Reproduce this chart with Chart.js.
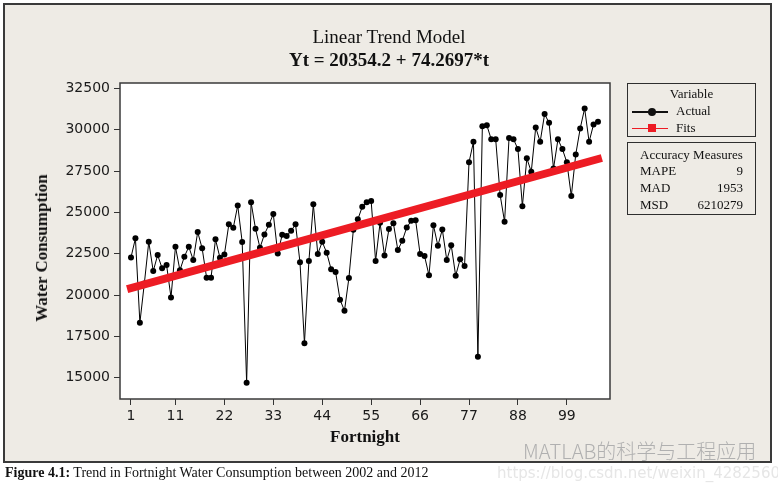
<!DOCTYPE html>
<html>
<head>
<meta charset="utf-8">
<script src="https://cdn.jsdelivr.net/npm/chart.js@4"></script>
<style>
  body { margin:0; width:778px; height:484px; position:relative; overflow:hidden; background:#fff; font-family:"Liberation Serif", serif; color:#111; }
  #frame { position:absolute; left:3px; top:3px; width:765px; height:456px; border:2px solid #3a3a3a; background:#eeebe5; }
  #chart { position:absolute; left:0; top:0; }
  .ttl { position:absolute; left:0; width:778px; text-align:center; font-size:19px; line-height:22px; }
  .axis-title { position:absolute; font-weight:bold; font-size:17px; white-space:nowrap; transform:translate(-50%,-50%); }
  #legend { font-size:13px; line-height:16px; }
  .box { position:absolute; box-sizing:border-box; border:1.5px solid #2e2e2e; background:#eeebe5; }
  .row { position:absolute; white-space:nowrap; }
  #caption { position:absolute; left:5px; top:465px; font-size:14px; line-height:16px; white-space:nowrap; }
  #wm { position:absolute; left:523px; top:436px; font-family:"Noto Sans CJK SC", sans-serif; font-size:20px; font-weight:300; color:#b0b0b0; white-space:nowrap; }
  #wmurl { position:absolute; left:497px; top:464px; font-family:"DejaVu Sans", sans-serif; font-size:15px; color:#e6e6e6; white-space:nowrap; }
</style>
</head>
<body>
<div id="frame"></div>
<canvas id="chart" width="778" height="463"></canvas>
<div class="ttl" style="top:26px">Linear Trend Model</div>
<div class="ttl" style="top:49px;font-weight:bold">Yt = 20354.2 + 74.2697*t</div>
<div class="axis-title" style="left:42px;top:248px;transform:translate(-50%,-50%) rotate(-90deg)">Water Consumption</div>
<div class="axis-title" style="left:365px;top:437px">Fortnight</div>
<div id="legend"></div>
<div id="wm">MATLAB的科学与工程应用</div>
<div id="wmurl">https://blog.csdn.net/weixin_42825609</div>
<div id="caption"><b>Figure 4.1:</b> Trend in Fortnight Water Consumption between 2002 and 2012</div>

<script>
// ── DATA ─────────────────────────────────────────
const fortnightTicks = [1, 11, 22, 33, 44, 55, 66, 77, 88, 99];
const consumptionTicks = [15000, 17500, 20000, 22500, 25000, 27500, 30000, 32500];

// Actual water consumption, fortnight 1..106
const actual = [
  22280, 23430, 18330, 20700, 23220, 21450, 22420, 21620, 21820, 19860,
  22920, 21500, 22320, 22920, 22120, 23810, 22830, 21050, 21050, 23370,
  22260, 22450, 24280, 24070, 25420, 23210, 14700, 25610, 24010, 22860,
  23670, 24250, 24900, 22520, 23650, 23570, 23890, 24280, 21980, 17080,
  22060, 25490, 22490, 23220, 22560, 21560, 21400, 19720, 19050, 21040,
  23950, 24580, 25340, 25620, 25690, 22060, 24370, 22400, 23990, 24340,
  22720, 23280, 24090, 24490, 24520, 22480, 22360, 21200, 24230, 22980,
  23970, 22120, 23020, 21170, 22160, 21760, 28030, 29270, 16270, 30220,
  30280, 29420, 29420, 26050, 24430, 29510, 29430, 28830, 25380, 28270,
  27460, 30140, 29270, 30950, 30420, 27660, 29420, 28830, 28030, 25990,
  28510, 30080, 31290, 29270, 30320, 30480
];

// Fitted trend line end points
const fitFortnight = [1, 106];
const fitValues = [20428.5, 28227.2];

const legendNames = ['Actual', 'Fits'];
const measureNames = ['MAPE', 'MAD', 'MSD'];
const measureValues = ['9', '1953', '6210279'];

// ── LEGEND BOXES (html) ──────────────────────────
const legend = document.getElementById('legend');
legend.innerHTML =
  '<div class="box" style="left:627px;top:83px;width:129px;height:54px"></div>' +
  '<div class="row" style="left:627px;width:129px;text-align:center;top:86px">Variable</div>' +
  '<div style="position:absolute;left:632px;top:111px;width:36px;height:1.5px;background:#111"></div>' +
  '<div style="position:absolute;left:648px;top:108px;width:8px;height:8px;border-radius:50%;background:#111"></div>' +
  '<div class="row" style="left:676px;top:103px">' + legendNames[0] + '</div>' +
  '<div style="position:absolute;left:632px;top:127.5px;width:36px;height:1.5px;background:#ed1c24"></div>' +
  '<div style="position:absolute;left:648px;top:124px;width:8px;height:8px;background:#ed1c24"></div>' +
  '<div class="row" style="left:676px;top:120px">' + legendNames[1] + '</div>' +
  '<div class="box" style="left:627px;top:142px;width:129px;height:73px"></div>' +
  '<div class="row" style="left:627px;width:129px;text-align:center;top:147px">Accuracy Measures</div>';

measureNames.forEach((name, i) => {
  const y = 163 + i * 17;
  legend.innerHTML +=
    '<div class="row" style="left:640px;top:' + y + 'px">' + name + '</div>' +
    '<div class="row" style="left:680px;width:63px;text-align:right;top:' + y + 'px">' + measureValues[i] + '</div>';
});

// ── PLOT AREA BACKGROUND + FRAME ─────────────────
const plotFrame = {
  id: 'plotFrame',
  beforeDatasetsDraw(chart) {
    const { ctx, chartArea: a } = chart;
    ctx.save();
    ctx.fillStyle = '#ffffff';
    ctx.fillRect(a.left, a.top, a.right - a.left, a.bottom - a.top);
    ctx.restore();
  },
  afterDraw(chart) {
    const { ctx, chartArea: a } = chart;
    ctx.save();
    ctx.strokeStyle = '#3a3a3a';
    ctx.lineWidth = 1.5;
    ctx.strokeRect(a.left, a.top, a.right - a.left, a.bottom - a.top);
    ctx.restore();
  }
};

// ── CHART ────────────────────────────────────────
new Chart(document.getElementById('chart'), {
  type: 'line',
  data: {
    datasets: [
      {
        label: 'Fits',
        data: fitFortnight.map((t, i) => ({ x: t, y: fitValues[i] })),
        borderColor: '#ed1c24',
        borderWidth: 8,
        borderCapStyle: 'square',
        pointRadius: 0,
      },
      {
        label: 'Actual',
        data: actual.map((v, i) => ({ x: i + 1, y: v })),
        borderColor: '#000',
        borderWidth: 1,
        pointRadius: 3,
        pointBackgroundColor: '#000',
        pointBorderColor: '#000',
        pointBorderWidth: 0,
        tension: 0,
      },
    ],
  },
  options: {
    responsive: false,
    animation: false,
    layout: { padding: { left: 0, top: 83, right: 168, bottom: 0 } },
    plugins: { legend: { display: false }, tooltip: { enabled: false } },
    scales: {
      x: {
        type: 'linear',
        min: -1.47,
        max: 108.7,
        afterBuildTicks: s => { s.ticks = fortnightTicks.map(v => ({ value: v })); },
        afterFit: s => { s.height = 64; },
        grid: { drawOnChartArea: false, color: '#333', tickLength: 6 },
        border: { display: false },
        ticks: { color: '#1a1a1a', padding: 3, maxRotation: 0, font: { family: 'DejaVu Sans', size: 14 }, callback: v => String(v) },
      },
      y: {
        min: 13712,
        max: 32830,
        afterBuildTicks: s => { s.ticks = consumptionTicks.map(v => ({ value: v })); },
        afterFit: s => { s.width = 120; },
        grid: { drawOnChartArea: false, color: '#333', tickLength: 6 },
        border: { display: false },
        ticks: { color: '#1a1a1a', padding: 4, font: { family: 'DejaVu Sans', size: 14 }, callback: v => String(v) },
      },
    },
  },
  plugins: [plotFrame],
});
</script>
</body>
</html>
